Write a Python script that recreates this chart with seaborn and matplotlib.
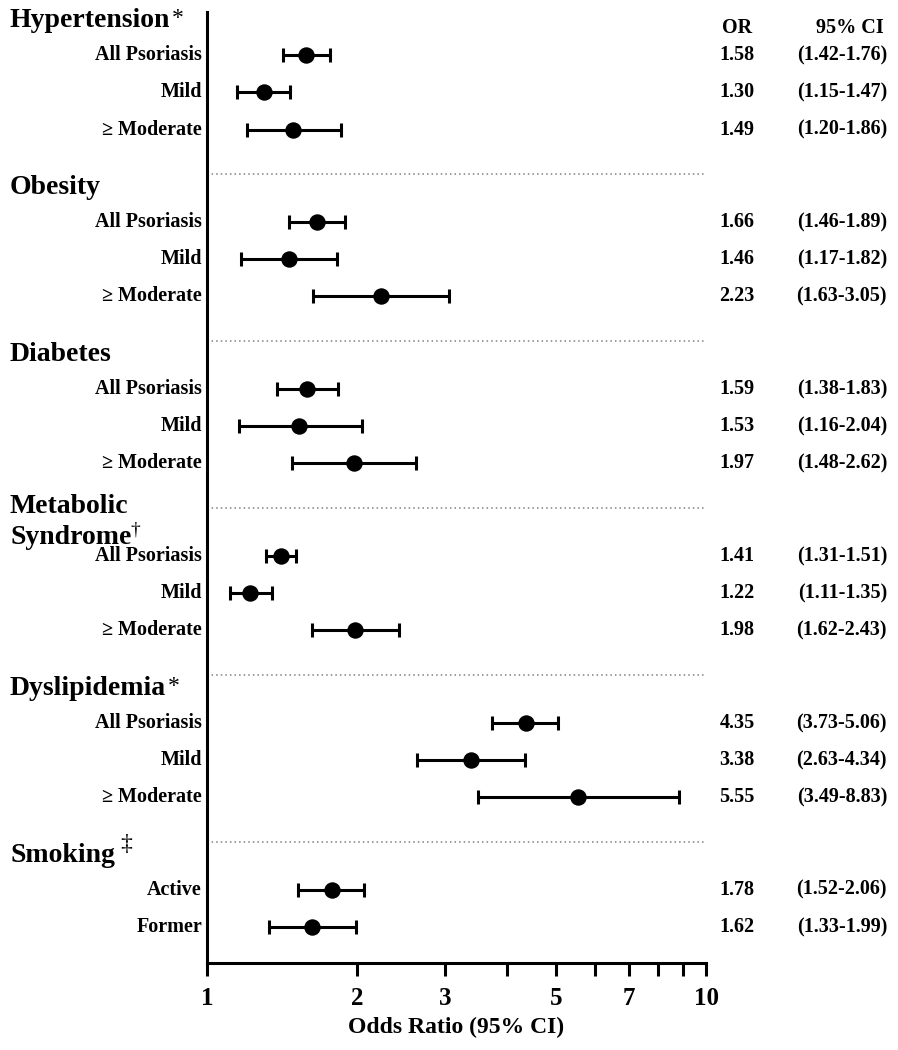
"""Forest plot: odds ratios of cardiovascular risk factors in psoriasis."""
import matplotlib

matplotlib.use("Agg")
import matplotlib.pyplot as plt
import matplotlib.transforms as mtransforms
import pandas as pd
import seaborn as sns

# ---- data ------------------------------------------------------------------
groups = ["Hypertension", "Obesity", "Diabetes", "Metabolic\nSyndrome", "Dyslipidemia", "Smoking"]
group_marks = ["*", "", "", "\u2020", "*", "\u2021"]
subgroups = [
    ["All Psoriasis", "Mild", "\u2265 Moderate"],
    ["All Psoriasis", "Mild", "\u2265 Moderate"],
    ["All Psoriasis", "Mild", "\u2265 Moderate"],
    ["All Psoriasis", "Mild", "\u2265 Moderate"],
    ["All Psoriasis", "Mild", "\u2265 Moderate"],
    ["Active", "Former"],
]
odds_ratio = [1.58, 1.30, 1.49, 1.66, 1.46, 2.23, 1.59, 1.53, 1.97,
              1.41, 1.22, 1.98, 4.35, 3.38, 5.55, 1.78, 1.62]
ci_low = [1.42, 1.15, 1.20, 1.46, 1.17, 1.63, 1.38, 1.16, 1.48,
          1.31, 1.11, 1.62, 3.73, 2.63, 3.49, 1.52, 1.33]
ci_high = [1.76, 1.47, 1.86, 1.89, 1.82, 3.05, 1.83, 2.04, 2.62,
           1.51, 1.35, 2.43, 5.06, 4.34, 8.83, 2.06, 1.99]
major_ticks = [1, 2, 3, 5, 7, 10]
minor_ticks = [4, 6, 8, 9]

# ---- layout ----------------------------------------------------------------
GROUP_STEP = 4.5
rows = []
for g, (name, subs) in enumerate(zip(groups, subgroups)):
    for i, sub in enumerate(subs):
        rows.append({"group": name, "label": sub, "y": g * GROUP_STEP + i})
df = pd.DataFrame(rows)
df["OR"] = odds_ratio
df["lo"] = ci_low
df["hi"] = ci_high

sns.set_theme(style="ticks", rc={"text.color": "black", "axes.labelcolor": "black",
                                 "xtick.color": "black", "axes.edgecolor": "black"})
plt.rcParams["font.family"] = ["Liberation Serif", "DejaVu Serif"]
plt.rcParams["font.weight"] = "bold"

fig = plt.figure(figsize=(8.98, 10.5), dpi=100)
ax = fig.add_axes([207 / 898, 1 - 963 / 1050, (706 - 207) / 898, (963 - 12) / 1050])

ax.errorbar(df["OR"], df["y"], xerr=[df["OR"] - df["lo"], df["hi"] - df["OR"]],
            fmt="none", ecolor="black", elinewidth=2.2, capsize=5, capthick=2.2, zorder=2)
sns.scatterplot(data=df, x="OR", y="y", ax=ax, s=140, color="black",
                edgecolor="black", linewidth=0, zorder=3, legend=False)

ax.set_xscale("log")
ax.set_xlim(1, 10)
ax.set_ylim(24.47, -1.17)
ax.set_xticks(major_ticks)
ax.set_xticklabels([str(t) for t in major_ticks])
ax.set_xticks(minor_ticks, minor=True)
ax.set_xticklabels([], minor=True)
ax.tick_params(axis="x", which="both", direction="out", length=9, width=2.2,
               labelsize=18, pad=8, colors="black")
ax.set_yticks([])
ax.set_ylabel("")
ax.set_xlabel("Odds Ratio (95% CI)", fontsize=17, fontweight="bold", labelpad=5, color="black")
for lbl in ax.get_xticklabels():
    lbl.set_fontweight("bold")
sns.despine(ax=ax, top=True, right=True)
for side in ("left", "bottom"):
    ax.spines[side].set_linewidth(2.2)
    ax.spines[side].set_color("black")

# dotted separators between groups
for g in range(len(groups) - 1):
    ax.axhline(g * GROUP_STEP + 3.2, color="#808080", lw=1.1, ls=(0, (1, 2)), zorder=1)

trans = mtransforms.blended_transform_factory(fig.transFigure, ax.transData)

# group headers
HEAD_SIZE = 20
for g, (name, mark) in enumerate(zip(groups, group_marks)):
    base = g * GROUP_STEP
    lines = name.split("\n")
    if len(lines) == 2:
        ax.text(10 / 898, base - 1.35, lines[0], transform=trans, ha="left", va="center",
                fontsize=HEAD_SIZE, fontweight="bold", color="black")
        head = ax.text(10 / 898, base - 0.49, lines[1], transform=trans, ha="left", va="center",
                       fontsize=HEAD_SIZE, fontweight="bold", color="black")
    else:
        head = ax.text(10 / 898, base - 0.94, name, transform=trans, ha="left", va="center",
                       fontsize=HEAD_SIZE, fontweight="bold", color="black")
    if mark == "*":
        ax.annotate(mark, xy=(1, 1), xycoords=head, xytext=(1, 0), textcoords="offset points",
                    ha="left", va="top", fontsize=17, fontweight="normal", color="black")
    elif mark == "\u2020":
        ax.annotate(mark, xy=(1, 1), xycoords=head, xytext=(-1, 3), textcoords="offset points",
                    ha="left", va="top", fontsize=14, fontweight="normal", color="black")
    elif mark == "\u2021":
        ax.annotate(mark, xy=(1, 1), xycoords=head, xytext=(4, 6), textcoords="offset points",
                    ha="left", va="top", fontsize=17, fontweight="normal", color="black")

# row labels and OR / CI columns
for _, r in df.iterrows():
    ax.text(202 / 898, r["y"], r["label"], transform=trans, ha="right", va="center",
            fontsize=14.5, fontweight="bold", color="black")
    ax.text(737 / 898, r["y"], f"{r['OR']:.2f}", transform=trans, ha="center", va="center",
            fontsize=14.5, fontweight="bold", color="black")
    ax.text(887 / 898, r["y"], f"({r['lo']:.2f}-{r['hi']:.2f})", transform=trans,
            ha="right", va="center", fontsize=14.5, fontweight="bold", color="black")

ax.text(737 / 898, -0.73, "OR", transform=trans, ha="center", va="center",
        fontsize=14.5, fontweight="bold", color="black")
ax.text(884 / 898, -0.73, "95% CI", transform=trans, ha="right", va="center",
        fontsize=14.5, fontweight="bold", color="black")

fig.savefig("out.png", dpi=100)
